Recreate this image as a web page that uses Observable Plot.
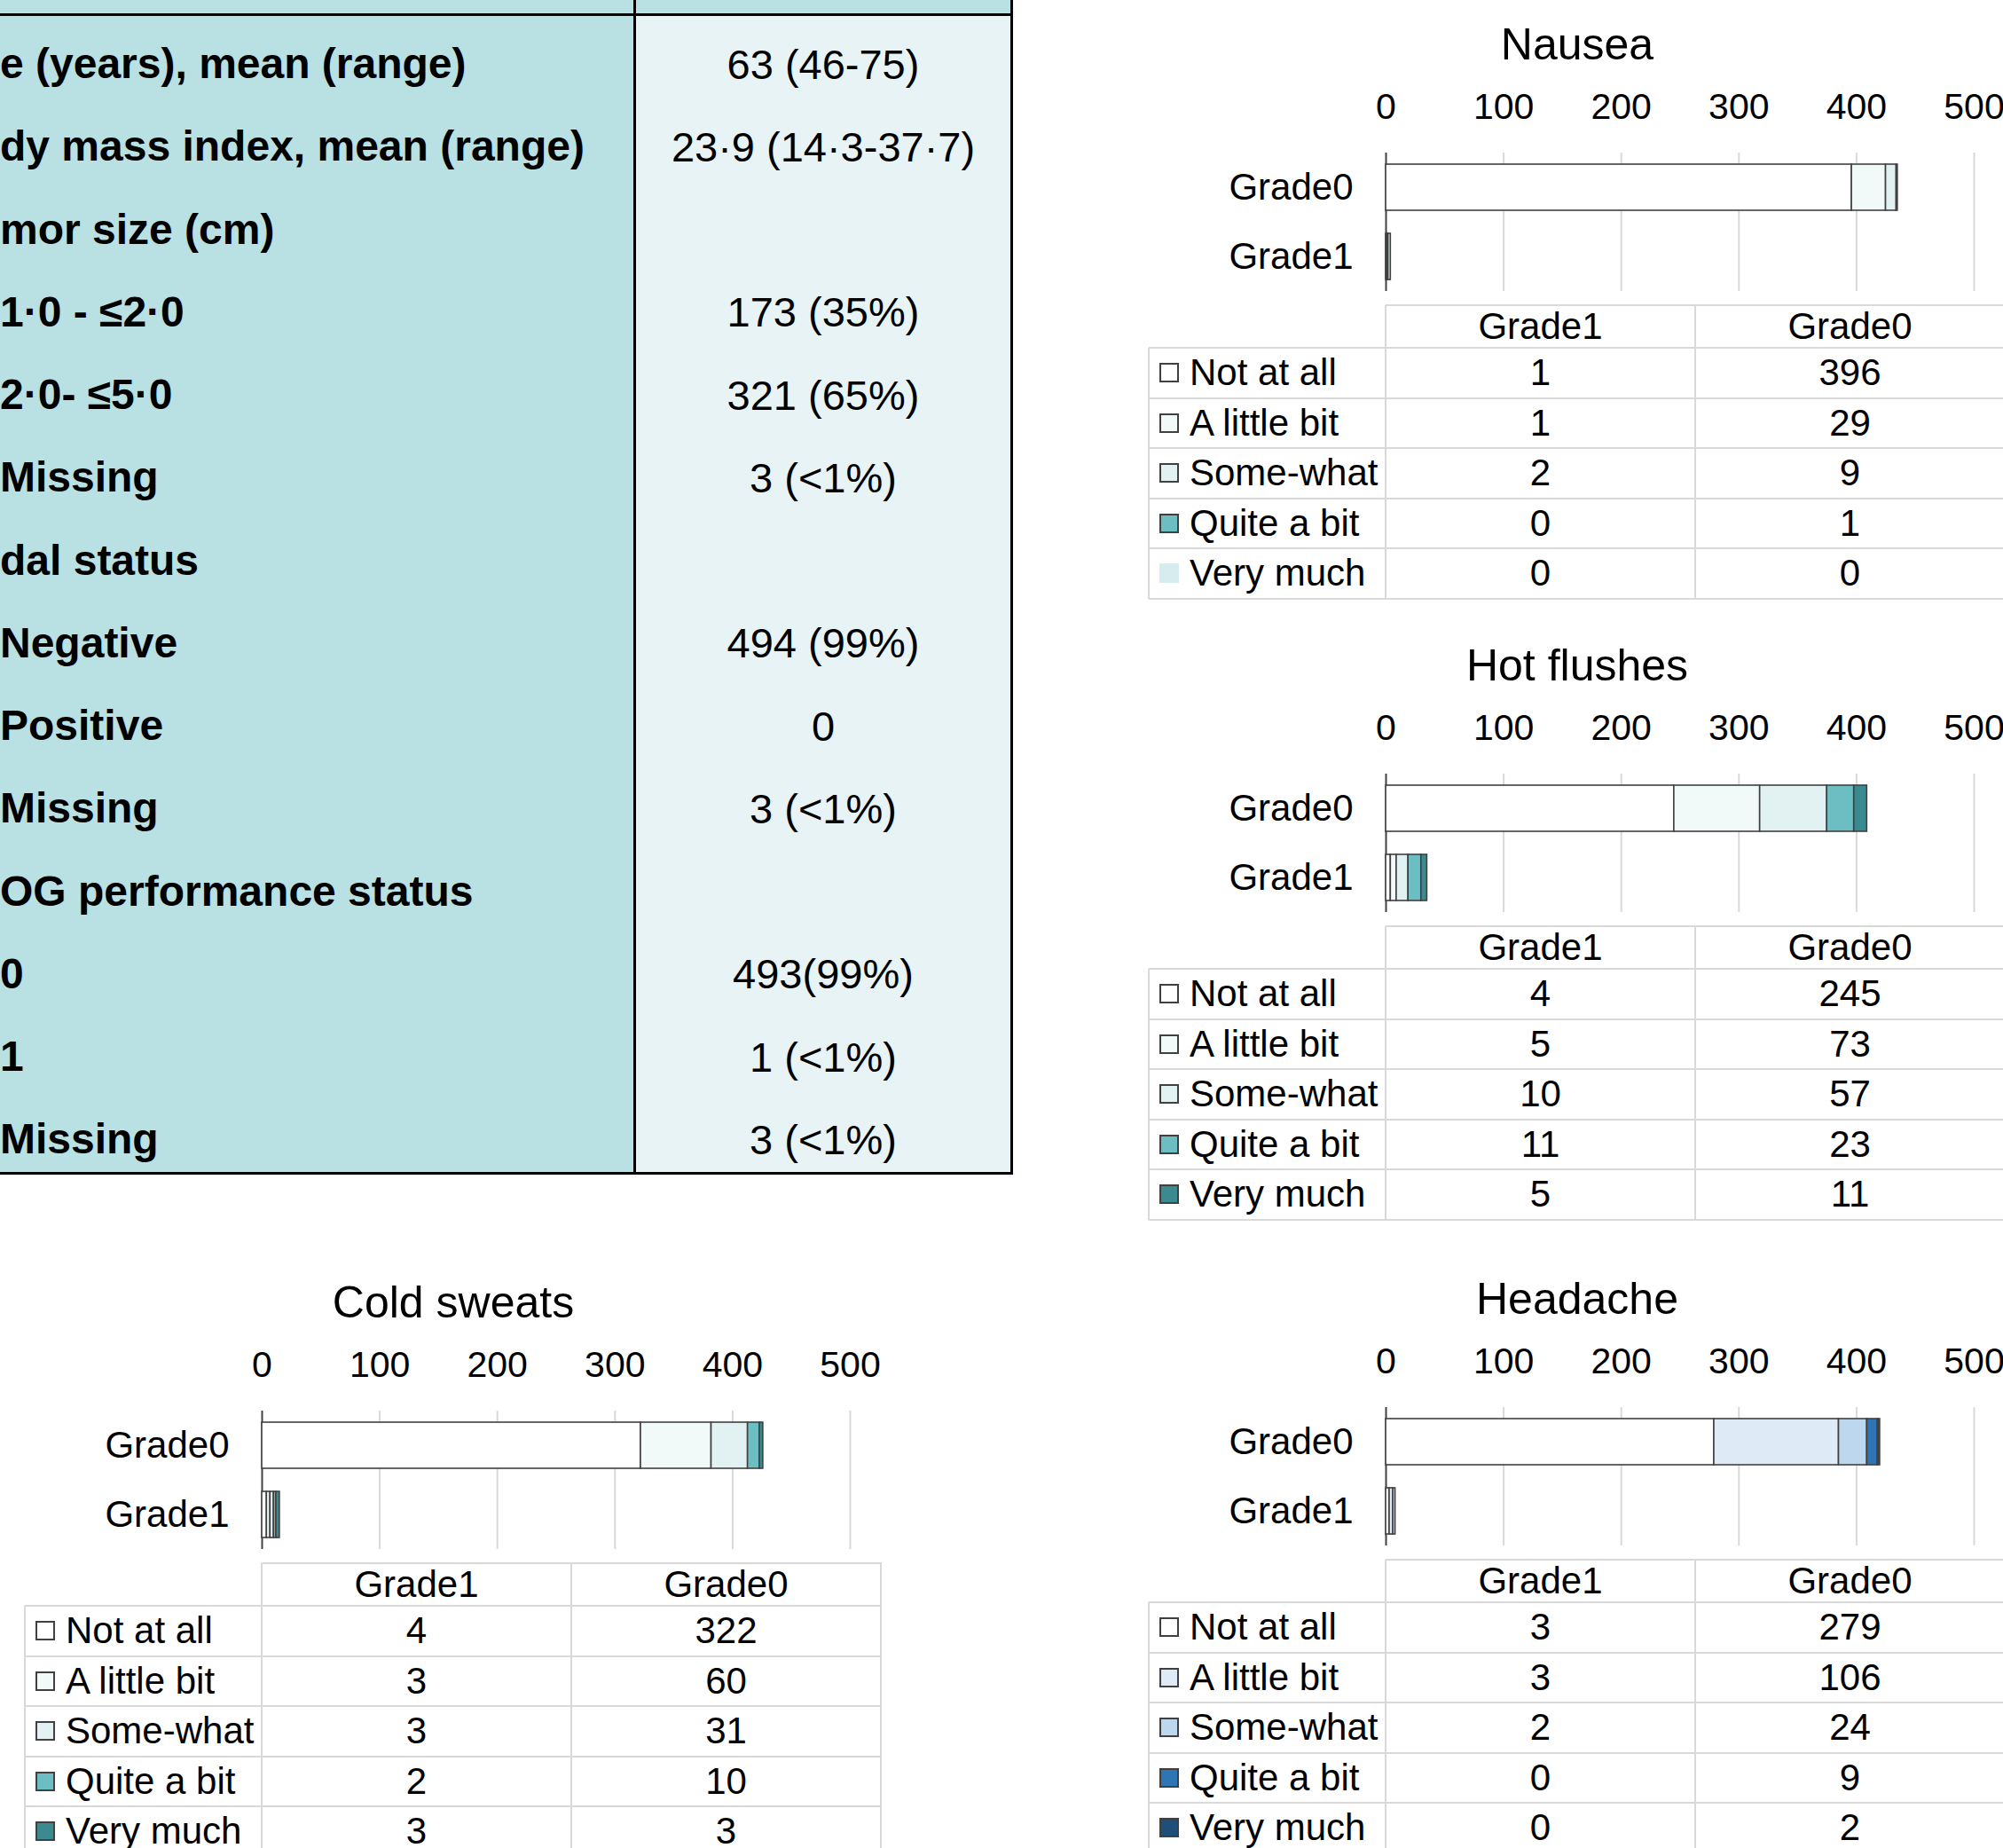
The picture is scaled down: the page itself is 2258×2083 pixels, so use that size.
<!DOCTYPE html>
<html>
<head>
<meta charset="utf-8">
<script src="https://cdn.jsdelivr.net/npm/d3@7"></script>
<script src="https://cdn.jsdelivr.net/npm/@observablehq/plot@0.6"></script>
<style>
html, body { margin: 0; padding: 0; background: #fff; }
#root { position: relative; width: 2258px; height: 2083px; overflow: hidden;
  font-family: "Liberation Sans", Arial, sans-serif; color: #000; }
.abs { position: absolute; box-sizing: border-box; }
.txt { position: absolute; white-space: pre; line-height: 1; display: flex; align-items: center; }
</style>
</head>
<body>
<div id="root"></div>
<script>
// ---------------- data ----------------
const tableLabels = [
  "e (years), mean (range)", "dy mass index, mean (range)", "mor size (cm)",
  "1·0 - ≤2·0", "2·0- ≤5·0", "Missing", "dal status", "Negative", "Positive",
  "Missing", "OG performance status", "0", "1", "Missing"
];
const tableValues = [
  "63 (46-75)", "23·9 (14·3-37·7)", "", "173 (35%)", "321 (65%)", "3 (<1%)", "",
  "494 (99%)", "0", "3 (<1%)", "", "493(99%)", "1 (<1%)", "3 (<1%)"
];

const grades = ["Grade0", "Grade1"];
const tableCols = ["Grade1", "Grade0"];
const levels = ["Not at all", "A little bit", "Some-what", "Quite a bit", "Very much"];
const xTicks = [0, 100, 200, 300, 400, 500];

const nauseaGrade1 = [1, 1, 2, 0, 0];
const nauseaGrade0 = [396, 29, 9, 1, 0];
const hotGrade1 = [4, 5, 10, 11, 5];
const hotGrade0 = [245, 73, 57, 23, 11];
const coldGrade1 = [4, 3, 3, 2, 3];
const coldGrade0 = [322, 60, 31, 10, 3];
const headGrade1 = [3, 3, 2, 0, 0];
const headGrade0 = [279, 106, 24, 9, 2];

// ---------------- styles ----------------
const FONT = '"Liberation Sans", Arial, sans-serif';
const tealColors = ["#ffffff", "#f2f9f9", "#e2f1f2", "#6dbec3", "#3b8a8f"];
const nauseaColors = ["#ffffff", "#f2f9f9", "#e2f1f2", "#6dbec3", "#d6ecee"];
const blueColors = ["#ffffff", "#deeaf6", "#bdd7ee", "#2e75b6", "#1f4e79"];
const swatchStroke = ["#404040", "#404040", "#404040", "#404040", "#404040"];
const nauseaSwatchStroke = ["#404040", "#404040", "#404040", "#404040", "none"];

// layout (pixel positions of each block)
const chartLayout = [
  {name: "Nausea", g0: nauseaGrade0, g1: nauseaGrade1, colors: nauseaColors, sw: nauseaSwatchStroke, X: 1562, G: 172},
  {name: "Hot flushes", g0: hotGrade0, g1: hotGrade1, colors: tealColors, sw: swatchStroke, X: 1562, G: 872},
  {name: "Cold sweats", g0: coldGrade0, g1: coldGrade1, colors: tealColors, sw: swatchStroke, X: 295, G: 1590},
  {name: "Headache", g0: headGrade0, g1: headGrade1, colors: blueColors, sw: swatchStroke, X: 1562, G: 1586}
];

const root = document.getElementById("root");
function box(l, t, w, h, bg, extra) {
  const d = document.createElement("div");
  d.className = "abs";
  d.style.left = l + "px"; d.style.top = t + "px";
  d.style.width = w + "px"; d.style.height = h + "px";
  if (bg) d.style.background = bg;
  if (extra) Object.assign(d.style, extra);
  root.appendChild(d);
  return d;
}
function text(str, l, cy, size, opts = {}) {
  const d = document.createElement("div");
  d.className = "txt";
  d.textContent = str;
  d.style.fontSize = size + "px";
  d.style.height = size + "px";
  d.style.top = (cy - size / 2) + "px";
  if (opts.center) {
    d.style.left = (l - 400) + "px"; d.style.width = "800px"; d.style.justifyContent = "center";
  } else {
    d.style.left = l + "px";
  }
  if (opts.bold) d.style.fontWeight = "bold";
  root.appendChild(d);
  return d;
}

// ---------------- left demographic table ----------------
box(0, 0, 715, 1323, "#b9e0e3");
box(715, 0, 426, 1323, "#e7f3f4");
box(715, 0, 426, 17, "#b9e0e3");
box(0, 15, 1142, 3, "#000");
box(714, 0, 3, 1324, "#000");
box(1139, 0, 3, 1324, "#000");
box(0, 1321, 1142, 3, "#000");
tableLabels.forEach((lab, i) => {
  const cy = 72 + i * 93.25;
  text(lab, 0, cy, 48, {bold: true});
  if (tableValues[i]) text(tableValues[i], 928, cy, 47, {center: true});
});

// ---------------- charts ----------------
const mL = 280, mR = 60, mT = 100, mB = 4, plotW = 663, plotH = 156;
chartLayout.forEach(c => {
  const data = [];
  grades.forEach((g, gi) => {
    const vals = gi === 0 ? c.g0 : c.g1;
    levels.forEach((l, li) => { if (vals[li] > 0) data.push({grade: g, level: l, value: vals[li]}); });
  });
  const svg = Plot.plot({
    width: mL + plotW + mR, height: mT + plotH + mB,
    marginLeft: mL, marginRight: mR, marginTop: mT, marginBottom: mB,
    style: {fontFamily: FONT, fontSize: "41px", background: "transparent", color: "#000", overflow: "visible"},
    x: {domain: [0, 500], label: null},
    y: {domain: grades, padding: 0, label: null},
    color: {domain: levels, range: c.colors},
    marks: [
      Plot.gridX({ticks: xTicks.slice(1), stroke: "#d9d9d9", strokeOpacity: 1, strokeWidth: 2}),
      Plot.ruleX([0], {stroke: "#404040", strokeWidth: 2}),
      Plot.barX(data, Plot.stackX({x: "value", y: "grade", fill: "level", stroke: "#404040", strokeWidth: 1.6, insetTop: 13, insetBottom: 13})),
      Plot.axisX({ticks: xTicks, anchor: "top", tickSize: 0, tickPadding: 52, lineAnchor: "middle", fontSize: 41, label: null}),
      Plot.axisY({tickSize: 0, tickPadding: 37, fontSize: 42, label: null})
    ]
  });
  svg.style.position = "absolute";
  svg.style.left = (c.X - mL) + "px";
  svg.style.top = (c.G - mT) + "px";
  svg.style.maxWidth = "none";
  root.appendChild(svg);

  // title
  text(c.name, c.X + 216, c.G - 122, 50, {center: true});

  // data table
  const T = c.G + 172, X = c.X;
  const hdr = 48, rowH = 56.5, legW = 267, colW = 349;
  const bottom = T + hdr + rowH * levels.length;
  const lc = "#d9d9d9";
  box(X, T - 1, colW * 2 + 1, 2, lc);
  for (let k = 0; k <= levels.length; k++) {
    box(X - legW, T + hdr + rowH * k - 1, legW + colW * 2 + 1, 2, lc);
  }
  box(X - legW - 1, T + hdr, 2, bottom - T - hdr, lc);
  [0, 1, 2].forEach(j => box(X + colW * j - 1, T, 2, bottom - T, lc));
  tableCols.forEach((h, j) => text(h, X + colW * j + colW / 2, T + hdr / 2, 42, {center: true}));
  levels.forEach((l, i) => {
    const cy = T + hdr + rowH * (i + 0.5);
    const st = c.sw[i];
    box(X - 255, cy - 11, 22, 22, c.colors[i], st === "none" ? {} : {border: "2px solid " + st});
    text(l, X - 221, cy, 42);
    text(String(c.g1[i]), X + colW / 2, cy, 42, {center: true});
    text(String(c.g0[i]), X + colW * 1.5, cy, 42, {center: true});
  });
});
</script>
</body>
</html>
